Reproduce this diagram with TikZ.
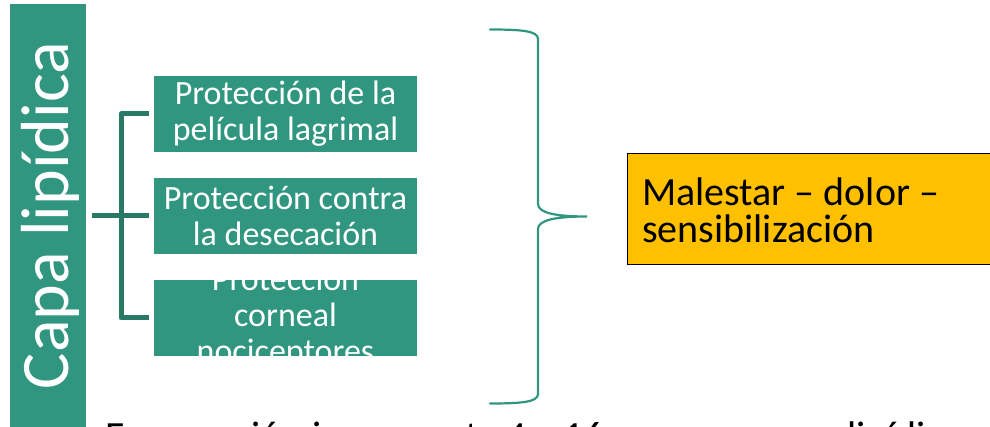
\documentclass[tikz,border=0pt]{standalone}
\usepackage{fontspec}
\setmainfont{Carlito}
\definecolor{teal1}{RGB}{49,150,128}
\definecolor{tealdark}{RGB}{42,120,102}
\definecolor{orangebox}{RGB}{255,192,0}
\begin{document}
\begin{tikzpicture}[x=1pt,y=-1pt,
  box/.style={fill=teal1,draw=none,minimum width=263pt,minimum height=76pt,inner sep=0pt},
  boxtext/.style={text=white,align=center,inner sep=0pt,font=\fontsize{34}{36}\selectfont},
  conn/.style={draw=tealdark,line width=5pt,line join=round},
  brace/.style={draw=teal1,line width=2.2pt,line cap=round}]
\path[use as bounding box] (0,0) rectangle (990,427);
\clip (0,0) rectangle (990,427);
\fill[white] (0,0) rectangle (990,427);
% left bar
\node[fill=teal1,minimum width=76pt,minimum height=430pt,inner sep=0pt] (bar) at (48,219) {};
\node[rotate=90,anchor=base,text=white,inner sep=0pt,font=\fontsize{68}{72}\selectfont] (bartext) at (68,215.5) {Capa lipídica};
% boxes
\node[box] (b1) at (285.5,114) {};
\node[box] (b2) at (285.5,216) {};
\node[box] (b3) at (285.5,318) {};
\node[boxtext] (t1) at (b1.center) {Protección de la\\película lagrimal};
\node[boxtext] (t2) at (b2.center) {Protección contra\\la desecación};
\node[boxtext] (t3) at (b3.center) {Protección\\corneal\\nociceptores};
% connectors
\coordinate (j) at (121,216);
\draw[conn] ([xshift=6pt]bar.east |- j) -- ([xshift=-5pt]b2.west);
\draw[conn] ([xshift=-5pt]b1.west) -| (j) |- ([xshift=-5pt]b3.west);
% brace
\coordinate (tip) at (587,216.5);
\draw[brace] (490,29.5) .. controls (522,29.5) and (538,31) .. (538,39) -- (538,204)
  .. controls (538,213) and (556,216.5) .. (tip)
  .. controls (556,216.5) and (538,220) .. (538,229) -- (538,394)
  .. controls (538,402) and (522,403.5) .. (490,403.5);
% orange box
\node[fill=orangebox,draw=black,line width=1.3pt,minimum width=380pt,minimum height=111pt,inner sep=0pt,anchor=north west] (m) at (627,153) {};
\node[anchor=west,align=left,inner sep=0pt,font=\fontsize{40}{37}\selectfont] (mt) at (642,210) {Malestar – dolor –\\sensibilización};
% bottom text (cut off)
\node[anchor=base west,inner sep=0pt,font=\fontsize{40}{44}\selectfont] (bottom) at (105,449) {Evaporación incrementa 4 a 16 veces en capa lipídica};
\end{tikzpicture}
\end{document}
